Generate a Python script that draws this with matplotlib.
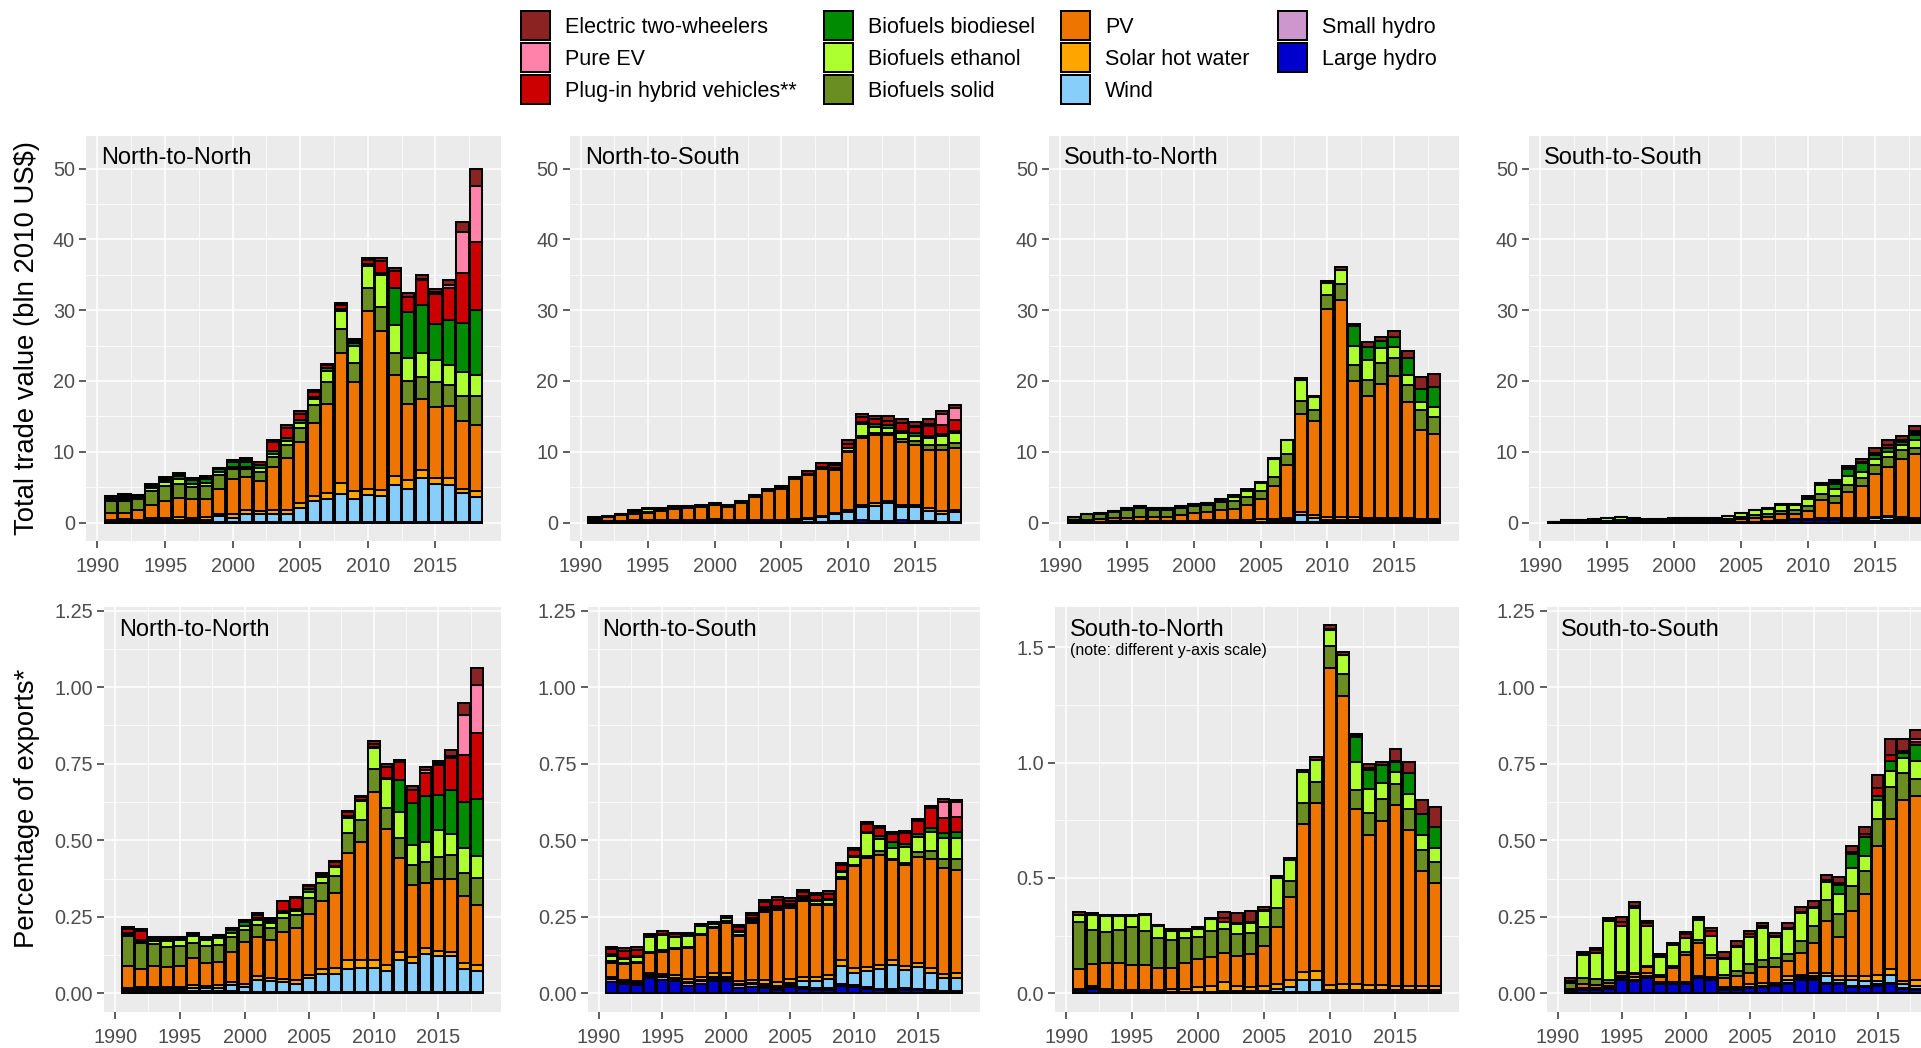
import numpy as np
import matplotlib
matplotlib.use("Agg")
import matplotlib.pyplot as plt
from matplotlib.patches import Patch

plt.rcParams['font.family'] = ['Liberation Sans', 'DejaVu Sans']

YEARS = list(range(1991, 2019))

# stack order, bottom to top
LAYERS = ["Large hydro", "Small hydro", "Wind", "Solar hot water", "PV",
          "Biofuels solid", "Biofuels ethanol", "Biofuels biodiesel",
          "Plug-in hybrid vehicles**", "Pure EV", "Electric two-wheelers"]
COLORS = ["#0000CD", "#CD96CD", "#87CEFA", "#FFA500", "#EE7600",
          "#6B8E23", "#ADFF2F", "#008B00", "#CD0000", "#FF82AB", "#8B2323"]

# ---- top row: total trade value (bln 2010 US$) ----
nn_top_lh = [.05, .05, .05, .05, .05, .05, .05, .05, .05, .05, .05, .05, .05, .05, .05, .05, .05, .05, .05, .05, .05, .05, .05, .05, .05, .05, .05, .05]
nn_top_sh = [.05, .05, .05, .05, .05, .05, .05, .05, .05, .05, .05, .05, .05, .05, .05, .05, .05, .05, .05, .05, .05, .05, .05, .05, .05, .05, .05, .05]
nn_top_wind = [.1, .1, .1, .2, .2, .3, .2, .3, .8, .6, 1.1, 1.1, 1.1, 1.1, 1.9, 2.9, 3.2, 3.9, 3.3, 3.8, 3.6, 5.2, 4.7, 6.2, 5.3, 5.2, 4.1, 3.5]
nn_top_shw = [.1, .3, .2, .3, .4, .4, .4, .4, .3, .5, .6, .5, .6, .6, .7, .8, .9, 1.6, 1.0, .9, .9, 1.3, 1.2, 1.1, .9, 1.0, .6, .8]
nn_top_pv = [1.0, .9, 1.4, 1.9, 2.4, 2.7, 2.6, 2.6, 3.6, 5.0, 4.6, 4.2, 6.1, 7.3, 8.7, 10.2, 12.5, 18.4, 15.4, 25.1, 22.4, 14.3, 10.7, 10.0, 10.0, 10.2, 9.5, 9.4]
nn_top_solid = [1.8, 1.7, 1.6, 1.9, 2.1, 2.0, 1.7, 1.8, 1.9, 1.3, 1.1, 1.3, 1.4, 1.9, 2.0, 2.6, 3.1, 3.3, 2.7, 3.3, 3.5, 3.1, 3.3, 3.2, 3.5, 2.9, 3.6, 4.1]
nn_top_eth = [.2, .2, .1, .5, .5, .6, .4, .4, .5, .3, .4, .5, .4, .5, .7, .8, 1.6, 2.6, 2.5, 3.0, 4.4, 3.9, 3.3, 3.4, 3.2, 2.8, 3.3, 2.9]
nn_top_biod = [.3, .3, .3, .2, .3, .5, .6, .6, .3, .8, .6, .5, .4, .4, .4, .4, .4, .3, .3, .3, .3, 5.2, 6.5, 6.7, 5.1, 6.4, 7.0, 9.2]
nn_top_phev = [.2, .3, .1, .2, .3, .3, .3, .3, .2, .3, .4, .3, 1.3, 1.5, .9, .7, .4, .5, .4, .6, 1.8, 2.5, 2.1, 3.5, 4.2, 4.6, 7.1, 9.6]
nn_top_pev = [0, 0, 0, 0, 0, 0, 0, 0, 0, 0, 0, 0, 0, 0, 0, 0, 0, 0, 0, 0, 0, 0, 0, .2, .3, .4, 5.8, 8.0]
nn_top_e2w = [0, .1, 0, .1, .2, .1, 0, .1, 0, 0, .2, .1, .3, .4, .3, .2, .2, .3, .2, .2, .4, .4, .5, .5, .4, .6, 1.4, 2.3]

ns_top_lh = [.15, .15, .15, .2, .2, .15, .15, .15, .2, .25, .1, .1, .1, .1, .1, .1, .1, .1, .2, .2, .3, .2, .2, .3, .2, .15, .1, .1]
ns_top_sh = [.05, .05, .05, .05, .05, .05, .05, .05, .05, .05, .05, .05, .05, .05, .05, .05, .05, .05, .05, .05, .05, .05, .05, .05, .05, .05, .05, .05]
ns_top_wind = [0, 0, 0, 0, 0, 0, .05, .05, .05, .05, .05, .05, .05, .05, .1, .2, .4, .6, .9, 1.2, 1.8, 2.1, 2.5, 1.8, 1.9, 1.45, 1.1, 1.3]
ns_top_shw = [.05, .05, .05, .1, .1, .1, .1, .1, .1, .1, .1, .1, .1, .1, .1, .1, .1, .15, .2, .35, .35, .35, .35, .35, .35, .35, .35, .35]
ns_top_pv = [.3, .5, .8, .9, 1.0, 1.3, 1.5, 1.7, 1.8, 2.0, 1.9, 2.4, 3.3, 4.2, 4.4, 5.7, 6.1, 6.7, 6.1, 8.1, 9.4, 9.7, 9.3, 8.9, 8.5, 8.3, 8.7, 8.8]
ns_top_solid = [.05, .05, .05, .1, .1, .1, .1, .1, 0, 0, 0, 0, 0, 0, 0, 0, 0, .1, .1, .2, .3, .3, .3, .4, .5, .6, .6, .6]
ns_top_eth = [.1, .05, .05, .2, .4, .2, .2, .15, .15, .15, .1, .1, .1, .1, .15, .1, .1, .2, .2, .4, 1.7, .8, .6, .9, .8, 1.1, 1.3, 1.4]
ns_top_biod = [0, 0, 0, 0, 0, 0, 0, 0, 0, 0, 0, 0, 0, 0, 0, 0, 0, 0, 0, .1, .3, .4, .5, .3, .3, .3, .3, .4]
ns_top_phev = [.05, .05, .05, .2, .2, .2, .15, .1, .1, .1, .2, .2, .2, .2, .2, .25, .4, .5, .4, .5, .7, .7, .6, 1.0, .9, 1.3, 1.3, 1.5]
ns_top_pev = [0, 0, 0, 0, 0, 0, 0, 0, 0, 0, 0, 0, 0, 0, 0, 0, 0, 0, 0, 0, 0, 0, 0, .1, .2, .3, 1.6, 1.7]
ns_top_e2w = [0, 0, 0, 0, 0, 0, 0, 0, 0, 0, 0, 0, 0, 0, 0, 0, .05, 0, .2, .5, .5, .5, .6, .5, .5, .7, .4, .4]

sn_top_lh = [.1, .05, .05, .05, .05, .05, .05, .05, .05, .05, .05, .05, .05, .05, .05, .05, .05, .05, .05, .05, .05, .05, .05, .05, .05, .05, .05, .05]
sn_top_sh = [.05, .05, .05, .05, .05, .05, .05, .05, .05, .05, .05, .05, .05, .05, .05, .05, .05, .05, .05, .05, .05, .05, .05, .05, .05, .05, .05, .05]
sn_top_wind = [0, 0, 0, 0, 0, 0, 0, 0, 0, 0, 0, 0, 0, 0, .05, .1, .3, 1.0, .6, .3, .3, .3, .2, .2, .2, .2, .1, .1]
sn_top_shw = [.05, .05, .05, .1, .1, .1, .1, .1, .15, .15, .2, .25, .25, .25, .3, .3, .3, .4, .4, .4, .4, .4, .4, .4, .3, .3, .3, .3]
sn_top_pv = [.15, .25, .3, .4, .5, .6, .6, .6, .8, 1.1, 1.25, 1.4, 1.55, 2.15, 2.85, 4.6, 7.4, 13.9, 13.2, 29.4, 30.6, 19.2, 17.2, 18.9, 20.1, 16.5, 12.6, 12.0]
sn_top_solid = [.4, .8, .8, .9, 1.1, 1.2, 1.0, 1.0, 1.0, 1.0, 1.0, 1.1, 1.1, 1.1, 1.2, 1.4, 1.6, 1.8, 1.6, 2.0, 2.3, 2.2, 2.3, 2.9, 2.6, 2.3, 2.8, 2.4]
sn_top_eth = [0, 0, .05, .1, .2, .3, .3, .3, .25, .25, .25, .3, .6, .8, 1.1, 2.5, 1.9, 3.0, 1.8, 1.6, 2.0, 2.8, 2.8, 2.2, 1.5, 1.5, 1.2, 1.4]
sn_top_biod = [0, 0, 0, 0, 0, 0, 0, 0, 0, 0, 0, 0, 0, 0, 0, 0, 0, 0, 0, 0, 0, 2.7, 1.8, .9, 1.4, 2.4, 1.8, 2.9]
sn_top_phev = [0, 0, 0, 0, 0, 0, 0, 0, 0, 0, 0, .1, .1, .1, .1, 0, 0, 0, 0, 0, 0, 0, 0, 0, 0, 0, 0, 0]
sn_top_pev = [0, 0, 0, 0, 0, 0, 0, 0, 0, 0, 0, 0, 0, 0, 0, 0, 0, 0, 0, 0, 0, 0, 0, 0, 0, 0, 0, 0]
sn_top_e2w = [0, 0, 0, 0, 0, 0, 0, 0, 0, 0, 0, .05, .2, .3, .1, .1, .1, .2, .2, .3, .4, .4, .7, .6, .8, .9, 1.7, 1.8]

ss_top_lh = [.05, .1, .1, .1, .15, .15, .15, .1, .1, .1, .15, .15, .05, .05, .1, .1, .1, .15, .3, .35, .3, .3, .2, .2, .2, .25, .2, .15]
ss_top_sh = [0, 0, 0, 0, 0, 0, 0, 0, 0, 0, 0, 0, 0, 0, 0, 0, 0, 0, 0, 0, .05, .05, .05, .05, .05, .05, .05, .05]
ss_top_wind = [0, 0, 0, 0, 0, 0, 0, 0, 0, 0, 0, 0, 0, 0, 0, 0, .05, .15, .15, .1, .2, .25, .3, .3, .35, .5, .3, .3]
ss_top_shw = [0, 0, 0, 0, 0, .05, .05, 0, 0, 0, 0, 0, .05, .05, .05, .05, .05, .05, .05, .05, .1, .1, .1, .15, .15, .2, .2, .2]
ss_top_pv = [0, .05, .05, .05, .05, .05, .05, .05, .1, .2, .2, .2, .15, .25, .35, .5, .6, .8, .75, 1.2, 2.5, 2.0, 3.6, 4.4, 6.1, 6.9, 8.2, 9.0]
ss_top_solid = [.05, .05, .05, .05, .05, .05, .05, .05, .05, .05, .05, .05, .15, .2, .3, .4, .4, .5, .55, .7, .9, 1.0, 1.1, 1.2, 1.3, 1.3, 1.3, .9]
ss_top_eth = [.05, .1, .1, .3, .35, .45, .3, .25, .25, .25, .3, .25, .3, .35, .55, .7, .75, .9, .75, 1.0, 1.2, 1.0, 1.3, .8, .8, .8, .7, 1.0]
ss_top_biod = [0, 0, 0, 0, 0, 0, 0, 0, 0, 0, 0, 0, 0, 0, 0, 0, 0, 0, 0, 0, .2, .8, .9, 1.3, .6, .5, .5, .8]
ss_top_phev = [0, 0, 0, 0, 0, 0, 0, .05, 0, 0, 0, .05, 0, 0, .05, .05, .05, .05, .05, .1, .1, .2, .1, .2, .3, .4, .2, .3]
ss_top_pev = [0, 0, 0, 0, 0, 0, 0, 0, 0, 0, 0, 0, 0, 0, 0, 0, 0, 0, 0, 0, 0, 0, 0, 0, 0, 0, 0, .2]
ss_top_e2w = [0, 0, 0, 0, 0, 0, 0, 0, 0, 0, 0, 0, 0, 0, 0, 0, 0, 0, 0, .2, .05, .3, .35, .4, .75, .8, .55, .7]

# ---- bottom row: percentage of exports ----
nn_bot_lh = [.005, .005, .005, .003, .003, .003, .003, .003, .003, .002, .002, .002, .002, .002, .002, .002, .002, .002, .002, .002, .002, .002, .002, .002, .002, .002, .002, .002]
nn_bot_sh = [.005, .005, .005, .003, .003, .003, .003, .003, .003, .002, .002, .002, .002, .002, .002, .002, .002, .002, .002, .002, .002, .002, .002, .002, .002, .002, .002, .002]
nn_bot_wind = [.005, .005, .005, .008, .008, .012, .01, .012, .022, .018, .04, .036, .033, .028, .045, .058, .06, .074, .08, .08, .07, .105, .095, .125, .118, .117, .075, .068]
nn_bot_shw = [.003, .005, .005, .006, .008, .01, .008, .008, .008, .008, .011, .01, .01, .01, .012, .018, .018, .03, .025, .024, .02, .025, .02, .018, .015, .015, .02, .02]
nn_bot_pv = [.07, .058, .07, .067, .068, .086, .074, .077, .1, .139, .13, .124, .154, .17, .198, .22, .245, .349, .386, .551, .442, .307, .235, .214, .238, .239, .219, .198]
nn_bot_solid = [.10, .087, .072, .063, .065, .051, .057, .055, .049, .038, .038, .038, .044, .044, .051, .059, .056, .068, .071, .073, .068, .065, .065, .069, .071, .077, .076, .087]
nn_bot_eth = [.005, .005, .008, .022, .019, .022, .019, .022, .013, .013, .017, .017, .019, .014, .022, .02, .031, .049, .063, .068, .095, .087, .066, .065, .088, .068, .08, .07]
nn_bot_biod = [.005, .005, .008, .006, .006, .007, .006, .006, .01, .012, .005, .006, .006, .005, .008, .003, .003, .006, .003, .005, .003, .104, .136, .15, .114, .144, .152, .188]
nn_bot_phev = [.012, .028, .005, .004, .004, .003, .002, .003, .006, .008, .011, .006, .03, .035, .01, .007, .012, .012, .008, .01, .037, .058, .044, .076, .097, .104, .154, .215]
nn_bot_pev = [0, 0, 0, 0, 0, 0, 0, 0, 0, 0, 0, 0, 0, 0, 0, 0, 0, 0, 0, 0, 0, 0, 0, .008, .008, .008, .129, .158]
nn_bot_e2w = [.008, .006, .002, .001, .001, .001, .001, .001, .001, 0, .008, .004, .003, .006, .004, .003, .004, .005, .005, .01, .01, .007, .012, .011, .007, .019, .038, .054]

ns_bot_lh = [.038, .03, .028, .05, .045, .04, .025, .032, .04, .04, .018, .022, .018, .01, .02, .015, .012, .01, .025, .02, .015, .01, .008, .012, .01, .008, .005, .004]
ns_bot_sh = [.008, .006, .006, .008, .008, .008, .008, .008, .008, .008, .008, .007, .007, .007, .006, .006, .006, .006, .006, .006, .005, .005, .005, .005, .005, .004, .004, .004]
ns_bot_wind = [.002, .002, .002, .002, .002, .002, .003, .004, .005, .005, .005, .005, .006, .008, .007, .018, .022, .03, .058, .04, .052, .063, .08, .058, .07, .055, .04, .042]
ns_bot_shw = [.004, .004, .004, .005, .008, .01, .01, .01, .012, .012, .01, .01, .013, .013, .013, .013, .014, .014, .02, .016, .015, .015, .016, .015, .015, .015, .014, .015]
ns_bot_pv = [.048, .053, .058, .066, .073, .084, .103, .136, .147, .166, .147, .187, .223, .234, .232, .251, .235, .229, .263, .334, .354, .359, .327, .329, .346, .356, .345, .338]
ns_bot_solid = [.005, .005, .005, .004, .004, .003, .003, .004, .006, .004, .004, .004, .004, .004, .004, .004, .004, .004, .008, .004, .009, .013, .004, .006, .017, .027, .03, .035]
ns_bot_eth = [.018, .012, .016, .049, .051, .036, .036, .026, .01, .01, .008, .006, .006, .005, .005, .006, .007, .011, .015, .026, .073, .038, .034, .054, .049, .063, .07, .068]
ns_bot_biod = [.005, .005, .004, .002, .002, .002, .002, .002, .004, .004, .004, .004, .005, .005, .004, .004, .004, .004, .005, .004, .004, .011, .021, .008, .008, .011, .015, .022]
ns_bot_phev = [.016, .02, .02, .006, .01, .01, .006, .002, .001, .003, .012, .012, .017, .02, .012, .014, .016, .018, .018, .018, .026, .026, .025, .038, .043, .066, .049, .049]
ns_bot_pev = [0, 0, 0, 0, 0, 0, 0, 0, 0, 0, 0, 0, 0, 0, 0, 0, 0, 0, 0, 0, 0, 0, 0, 0, 0, 0, .054, .048]
ns_bot_e2w = [.008, .01, .007, .002, .002, .003, .002, .001, .001, .001, .007, .004, .006, .008, .007, .007, .007, .008, .007, .008, .008, .007, .006, .006, .006, .007, .008, .007]

sn_bot_lh = [.008, .02, .008, .004, .004, .004, .003, .003, .003, .003, .003, .003, .003, .003, .003, .003, .003, .003, .003, .003, .003, .003, .003, .003, .003, .003, .003, .003]
sn_bot_sh = [.004, .004, .004, .004, .004, .004, .004, .004, .004, .004, .004, .008, .004, .004, .004, .004, .004, .004, .004, .004, .004, .004, .004, .004, .004, .004, .004, .004]
sn_bot_wind = [0, 0, 0, 0, 0, 0, 0, 0, 0, 0, 0, 0, .002, .002, .004, .012, .022, .05, .05, .006, .006, .006, .006, .006, .006, .006, .006, .006]
sn_bot_shw = [.006, .006, .006, .008, .008, .008, .008, .01, .013, .018, .023, .039, .021, .016, .019, .021, .029, .037, .04, .023, .027, .025, .022, .022, .017, .017, .017, .017]
sn_bot_pv = [.086, .097, .112, .114, .108, .108, .093, .091, .11, .122, .129, .123, .132, .144, .175, .249, .358, .642, .726, 1.375, 1.247, .763, .65, .712, .785, .68, .5, .449]
sn_bot_solid = [.203, .147, .137, .144, .165, .147, .13, .123, .108, .098, .112, .104, .095, .094, .084, .079, .07, .089, .093, .093, .098, .082, .097, .097, .094, .091, .09, .091]
sn_bot_eth = [.032, .065, .068, .061, .046, .069, .052, .041, .034, .035, .049, .033, .042, .043, .069, .132, .094, .135, .094, .072, .08, .12, .105, .068, .051, .062, .065, .061]
sn_bot_biod = [0, 0, 0, 0, 0, 0, 0, 0, 0, 0, 0, 0, 0, 0, 0, 0, 0, 0, 0, 0, 0, .107, .08, .076, .043, .092, .091, .088]
sn_bot_phev = [0, 0, 0, 0, 0, 0, 0, 0, 0, 0, 0, .015, .005, .005, .003, 0, 0, 0, 0, .005, .004, .004, .008, .002, .006, .002, .002, .003]
sn_bot_pev = [0, 0, 0, 0, 0, 0, 0, 0, 0, 0, 0, 0, 0, 0, 0, 0, 0, 0, 0, 0, 0, 0, 0, 0, 0, 0, 0, 0]
sn_bot_e2w = [.015, .007, .004, .004, .004, .003, .006, .005, .005, .006, .005, .029, .045, .047, .014, .008, .007, .01, .015, .014, .01, .012, .021, .013, .049, .046, .059, .086]

ss_bot_lh = [.005, .01, .01, .015, .045, .04, .05, .03, .03, .03, .05, .045, .01, .01, .018, .02, .025, .03, .045, .045, .03, .03, .02, .02, .025, .03, .015, .01]
ss_bot_sh = [.002, .005, .005, .005, .005, .005, .005, .004, .004, .004, .004, .004, .004, .004, .004, .004, .004, .004, .004, .004, .004, .004, .004, .004, .004, .004, .004, .004]
ss_bot_wind = [0, 0, 0, 0, 0, 0, 0, 0, 0, 0, 0, 0, 0, 0, 0, 0, 0, .011, .006, .006, .021, .011, .021, .016, .011, .026, .011, .011]
ss_bot_shw = [.002, .003, .003, .003, .005, .008, .01, .003, .003, .004, .004, .004, .008, .008, .008, .009, .006, .01, .006, .01, .01, .01, .01, .015, .02, .02, .01, .02]
ss_bot_pv = [.005, .012, .01, .012, .01, .01, .02, .015, .045, .087, .107, .062, .028, .035, .035, .052, .05, .05, .07, .1, .17, .13, .215, .27, .42, .49, .59, .6]
ss_bot_solid = [.02, .02, .02, .01, .005, .005, .005, .008, .008, .01, .01, .01, .01, .015, .03, .025, .03, .025, .04, .055, .07, .075, .08, .075, .09, .105, .09, .055]
ss_bot_eth = [.005, .075, .085, .19, .15, .21, .129, .06, .068, .047, .063, .063, .052, .08, .09, .105, .07, .08, .09, .058, .06, .065, .06, .05, .06, .05, .05, .06]
ss_bot_biod = [0, 0, 0, 0, 0, 0, 0, 0, 0, 0, 0, 0, 0, 0, 0, 0, 0, 0, 0, 0, 0, .03, .045, .06, .015, .035, .015, .05]
ss_bot_phev = [0, .003, .008, .005, .012, .008, .012, .003, .003, .012, .005, .015, .005, .004, .008, .004, .003, .004, .005, .005, .005, .006, .006, .012, .025, .02, .006, .01]
ss_bot_pev = [0, 0, 0, 0, 0, 0, 0, 0, 0, 0, 0, 0, 0, 0, 0, 0, 0, 0, 0, 0, 0, 0, 0, 0, 0, 0, 0, .01]
ss_bot_e2w = [.01, .008, .006, .005, .016, .011, .005, .005, .005, .007, .007, .009, .019, .016, .011, .012, .01, .015, .017, .017, .017, .02, .02, .02, .043, .051, .04, .03]

TITLES = ["North-to-North", "North-to-South", "South-to-North", "South-to-South"]

top_data = [
    [nn_top_lh, nn_top_sh, nn_top_wind, nn_top_shw, nn_top_pv, nn_top_solid, nn_top_eth, nn_top_biod, nn_top_phev, nn_top_pev, nn_top_e2w],
    [ns_top_lh, ns_top_sh, ns_top_wind, ns_top_shw, ns_top_pv, ns_top_solid, ns_top_eth, ns_top_biod, ns_top_phev, ns_top_pev, ns_top_e2w],
    [sn_top_lh, sn_top_sh, sn_top_wind, sn_top_shw, sn_top_pv, sn_top_solid, sn_top_eth, sn_top_biod, sn_top_phev, sn_top_pev, sn_top_e2w],
    [ss_top_lh, ss_top_sh, ss_top_wind, ss_top_shw, ss_top_pv, ss_top_solid, ss_top_eth, ss_top_biod, ss_top_phev, ss_top_pev, ss_top_e2w],
]
bot_data = [
    [nn_bot_lh, nn_bot_sh, nn_bot_wind, nn_bot_shw, nn_bot_pv, nn_bot_solid, nn_bot_eth, nn_bot_biod, nn_bot_phev, nn_bot_pev, nn_bot_e2w],
    [ns_bot_lh, ns_bot_sh, ns_bot_wind, ns_bot_shw, ns_bot_pv, ns_bot_solid, ns_bot_eth, ns_bot_biod, ns_bot_phev, ns_bot_pev, ns_bot_e2w],
    [sn_bot_lh, sn_bot_sh, sn_bot_wind, sn_bot_shw, sn_bot_pv, sn_bot_solid, sn_bot_eth, sn_bot_biod, sn_bot_phev, sn_bot_pev, sn_bot_e2w],
    [ss_bot_lh, ss_bot_sh, ss_bot_wind, ss_bot_shw, ss_bot_pv, ss_bot_solid, ss_bot_eth, ss_bot_biod, ss_bot_phev, ss_bot_pev, ss_bot_e2w],
]

W, H = 1921, 1048
fig = plt.figure(figsize=(W / 100, H / 100), dpi=100)

# panel boxes in pixels: (left, width)
top_boxes = [(86, 415), (569.5, 410.5), (1049, 410), (1529, 411)]
bot_boxes = [(104.3, 396.7), (587.7, 392.3), (1055, 404.3), (1546.7, 393)]
TOP_Y = (136, 541)
BOT_Y = (607, 1011.7)


def make_ax(left, width, ytop, ybot):
    return fig.add_axes([left / W, 1 - ybot / H, width / W, (ybot - ytop) / H])


def style(ax, ylim, yticks, yminor, fmt):
    ax.set_facecolor("#EBEBEB")
    for s in ax.spines.values():
        s.set_visible(False)
    ax.set_xlim(1989.15, 2019.85)
    ax.set_ylim(*ylim)
    ax.set_xticks([1990, 1995, 2000, 2005, 2010, 2015])
    ax.set_xticks([1992.5, 1997.5, 2002.5, 2007.5, 2012.5, 2017.5], minor=True)
    ax.set_yticks(yticks)
    ax.set_yticklabels([fmt.format(v) for v in yticks])
    ax.set_yticks(yminor, minor=True)
    ax.set_axisbelow(True)
    ax.grid(which="major", color="white", linewidth=1.1)
    ax.grid(which="minor", color="white", linewidth=0.55)
    ax.tick_params(which="major", length=5, width=1.1, color="#333333",
                   labelsize=14.3, labelcolor="#4D4D4D", pad=3)
    ax.tick_params(axis="x", which="major", pad=6.5)
    ax.tick_params(which="minor", length=0)


def stack(ax, layers):
    bottom = np.zeros(len(YEARS))
    for vals, col in zip(layers, COLORS):
        v = np.array(vals, dtype=float)
        ax.bar(YEARS, v, width=0.9, bottom=bottom, color=col,
               edgecolor="black", linewidth=1.45)
        bottom += v


for i in range(4):
    ax = make_ax(top_boxes[i][0], top_boxes[i][1], *TOP_Y)
    style(ax, (-2.6, 54.6), [0, 10, 20, 30, 40, 50], [5, 15, 25, 35, 45], "{:.0f}")
    stack(ax, top_data[i])
    ax.text(0.037, 0.972, TITLES[i], transform=ax.transAxes, ha="left", va="top",
            fontsize=17, color="black")

for i in range(4):
    ax = make_ax(bot_boxes[i][0], bot_boxes[i][1], *BOT_Y)
    if i == 2:
        style(ax, (-0.08, 1.675), [0, 0.5, 1.0, 1.5], [0.25, 0.75, 1.25], "{:.1f}")
    else:
        style(ax, (-0.06, 1.262), [0, 0.25, 0.5, 0.75, 1.0, 1.25],
              [0.125, 0.375, 0.625, 0.875, 1.125], "{:.2f}")
    stack(ax, bot_data[i])
    ax.text(0.037, 0.971, TITLES[i], transform=ax.transAxes, ha="left", va="top",
            fontsize=17, color="black")
    if i == 2:
        ax.text(0.037, 0.912, "(note: different y-axis scale)", transform=ax.transAxes,
                ha="left", va="top", fontsize=11.5, color="black")

fig.text(27.5 / W, 1 - 338 / H, "Total trade value (bln 2010 US$)", rotation=90,
         ha="center", va="center", fontsize=19.8, color="black")
fig.text(27.5 / W, 1 - 808 / H, "Percentage of exports*", rotation=90,
         ha="center", va="center", fontsize=19.8, color="black")

# legend: four columns, top to bottom as in the reference
legend_cols = [
    ["Electric two-wheelers", "Pure EV", "Plug-in hybrid vehicles**"],
    ["Biofuels biodiesel", "Biofuels ethanol", "Biofuels solid"],
    ["PV", "Solar hot water", "Wind"],
    ["Small hydro", "Large hydro"],
]
legend_x = [521, 824, 1061, 1278]
for names, lx in zip(legend_cols, legend_x):
    handles = [Patch(facecolor=COLORS[LAYERS.index(n)], edgecolor="black", linewidth=1.45)
               for n in names]
    fig.legend(handles, names, loc="upper left", bbox_to_anchor=(lx / W, 1 - 11 / H),
               frameon=False, fontsize=15.5, handlelength=1.35, handleheight=1.7,
               handletextpad=0.7, labelspacing=0.14, borderpad=0, borderaxespad=0)

fig.savefig("out.png", dpi=100)
